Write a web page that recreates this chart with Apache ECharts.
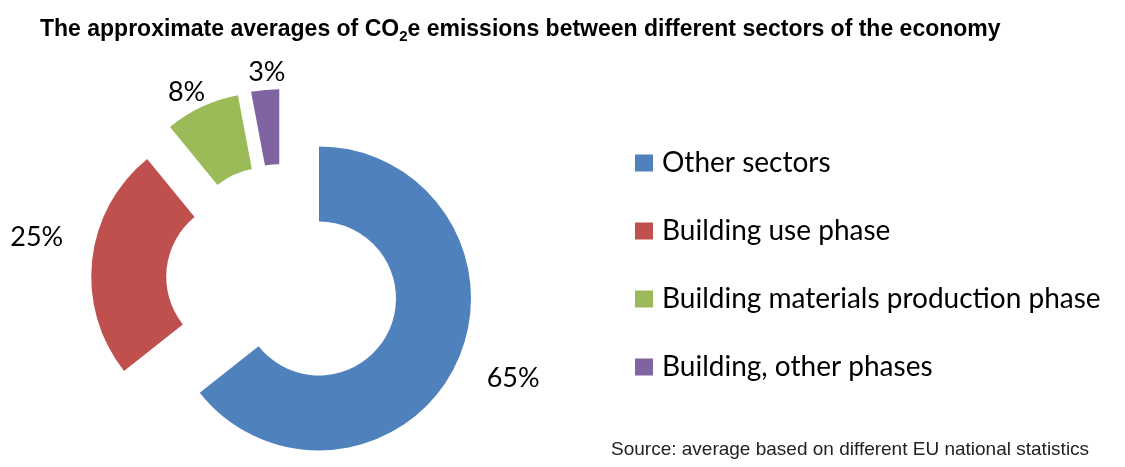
<!DOCTYPE html>
<html>
<head>
<meta charset="utf-8">
<script src="https://cdn.jsdelivr.net/npm/echarts@6/dist/echarts.min.js"></script>
<style>
  html, body { margin: 0; padding: 0; background: #fff; }
  #chart { width: 1125px; height: 467px; }
</style>
</head>
<body>
<div id="chart"></div>
<script>
const sectors = ['Other sectors', 'Building use phase', 'Building materials production phase', 'Building, other phases']
const shares = [65, 25, 8, 3]
const colors = ['#4F81BD', '#C0504D', '#9BBB59', '#8064A2']

// label placement tweaks (line length, nudge x, nudge y)
const labelLen = [31, 20, 16, 18]
const labelNudgeX = [-2, -4, 15, 27]
const labelNudgeY = [0, -21, 0, 0]

const chart = echarts.init(document.getElementById('chart'))

const pieData = sectors.map((name, i) => ({
    name: name,
    value: shares[i],
    selected: true,
    itemStyle: { color: colors[i] },
    labelLine: { show: false, length: labelLen[i], length2: 0 }
}))

const option = {
    animation: false,
    title: [
        {
            text: 'The approximate averages of CO{sub|2}e emissions between different sectors of the economy',
            left: 35,
            top: 11,
            textStyle: {
                fontFamily: 'Liberation Sans',
                fontSize: 23,
                fontWeight: 'bold',
                color: '#000',
                lineHeight: 28,
                rich: {
                    sub: {
                        fontFamily: 'Liberation Sans',
                        fontSize: 15,
                        fontWeight: 'bold',
                        color: '#000',
                        lineHeight: 15,
                        verticalAlign: 'bottom'
                    }
                }
            }
        },
        {
            text: 'Source: average based on different EU national statistics',
            left: 606,
            top: 435,
            textStyle: {
                fontFamily: 'Liberation Sans',
                fontSize: 19,
                fontWeight: 'normal',
                color: '#222'
            }
        }
    ],
    legend: {
        orient: 'vertical',
        left: 630,
        top: 144,
        itemWidth: 18,
        itemHeight: 17,
        itemGap: 40,
        icon: 'rect',
        data: sectors,
        textStyle: {
            fontFamily: 'Lato',
            fontSize: 28,
            lineHeight: 28,
            color: '#000',
            padding: [0, 0, 0, 4]
        }
    },
    series: [
        {
            type: 'pie',
            center: [283, 281],
            radius: [77, 152],
            startAngle: 90,
            clockwise: true,
            selectedMode: 'multiple',
            selectedOffset: 40,
            avoidLabelOverlap: false,
            emphasis: { disabled: true },
            data: pieData,
            label: {
                show: true,
                position: 'outside',
                formatter: '{c}%',
                fontFamily: 'Lato',
                fontSize: 27,
                color: '#000'
            },
            labelLayout: function (params) {
                return { dx: labelNudgeX[params.dataIndex], dy: labelNudgeY[params.dataIndex] }
            }
        }
    ]
}

chart.setOption(option)
</script>
</body>
</html>
